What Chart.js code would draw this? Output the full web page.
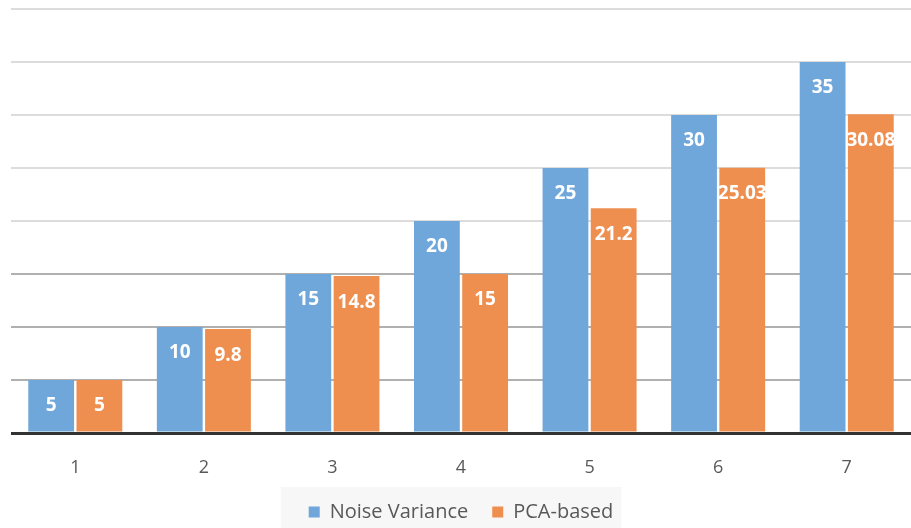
<!DOCTYPE html>
<html>
<head>
<meta charset="utf-8">
<script src="https://cdn.jsdelivr.net/npm/chart.js@4"></script>
<style>
  html, body { margin: 0; padding: 0; background: #fff; }
  #wrap { width: 911px; height: 528px; }
</style>
</head>
<body>
<div id="wrap"><canvas id="chart"></canvas></div>
<script>
const categories = ["1", "2", "3", "4", "5", "6", "7"];
const noiseVariance = [5, 10, 15, 20, 25, 30, 35];
const pcaBased = [5, 9.8, 14.8, 15, 21.2, 25.03, 30.08];

// white value labels inside the top of each bar
const barLabels = {
  id: "barLabels",
  afterDatasetsDraw(chart) {
    const ctx = chart.ctx;
    ctx.save();
    ctx.fillStyle = "#ffffff";
    ctx.font = "bold 19px 'Open Sans', sans-serif";
    ctx.textAlign = "center";
    ctx.textBaseline = "middle";
    chart.data.datasets.forEach((ds, i) => {
      chart.getDatasetMeta(i).data.forEach((bar, j) => {
        ctx.fillText(String(ds.data[j]), bar.x, bar.y + 26);
      });
    });
    ctx.restore();
  }
};

// faint panel behind the legend
const legendPanel = {
  id: "legendPanel",
  beforeDraw(chart) {
    const boxes = chart.legend && chart.legend.legendHitBoxes;
    if (!boxes || !boxes.length) return;
    const left = Math.min(...boxes.map(b => b.left)) - 28;
    const right = Math.max(...boxes.map(b => b.left + b.width)) + 8;
    const top = boxes[0].top - 15;
    const ctx = chart.ctx;
    ctx.save();
    ctx.fillStyle = "#f7f7f7";
    ctx.fillRect(left, top, right - left, chart.height - top);
    ctx.restore();
  }
};

new Chart(document.getElementById("chart"), {
  type: "bar",
  data: {
    labels: categories,
    datasets: [
      {
        label: "Noise Variance",
        data: noiseVariance,
        backgroundColor: "#6fa7da",
        borderWidth: 0,
      },
      {
        label: "PCA-based",
        data: pcaBased,
        backgroundColor: "#ee8f50",
        borderWidth: 0,
      },
    ],
  },
  options: {
    responsive: true,
    maintainAspectRatio: false,
    animation: false,
    layout: { padding: { left: 11, right: 0, top: 9, bottom: 0 } },
    datasets: {
      bar: { categoryPercentage: 0.75, barPercentage: 0.95 },
    },
    scales: {
      x: {
        grid: { display: false },
        border: { display: false },
        ticks: {
          color: "#595959",
          font: { family: "'Open Sans', sans-serif", size: 18 },
          padding: 16,
        },
        afterFit: (scale) => { scale.height = 45; },
      },
      y: {
        min: 0,
        max: 40,
        ticks: { display: false, stepSize: 5 },
        border: { display: false },
        grid: {
          drawTicks: false,
          color: (c) => (c.tick && c.tick.value === 0 ? "#333333" : c.tick && c.tick.value <= 15 ? "#b0b0b0" : "#dcdcdc"),
          lineWidth: (c) => (c.tick && c.tick.value === 0 ? 3 : 2),
        },
      },
    },
    plugins: {
      legend: {
        position: "bottom",
        maxHeight: 50,
        labels: {
          color: "#595959",
          font: { family: "'Open Sans', sans-serif", size: 20 },
          boxWidth: 11,
          boxHeight: 11,
          padding: 24,
        },
      },
      tooltip: { enabled: false },
    },
  },
  plugins: [barLabels, legendPanel],
});
</script>
</body>
</html>
